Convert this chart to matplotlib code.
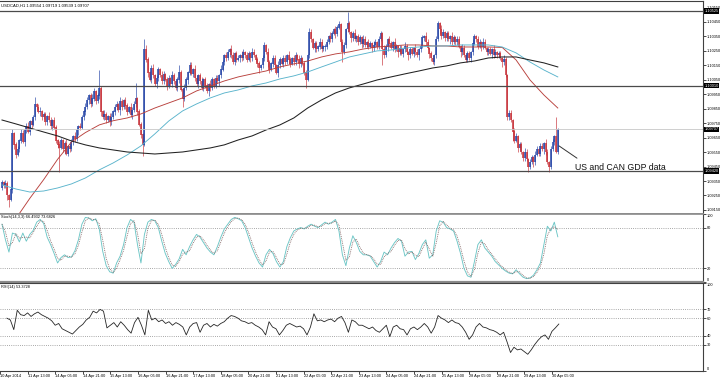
import numpy as np
import pandas as pd
import matplotlib
matplotlib.use("Agg")
import matplotlib.pyplot as plt
import matplotlib.transforms as mtransforms

plt.rcParams['font.family'] = ['Liberation Sans', 'DejaVu Sans']

# USDCAD H1, closes in pips above 1.0900, one value per hourly bar
close_pips = [
    34, 32, 33, 25, 22, 29, 68, 60, 53, 57,
    63, 68, 62, 70, 73, 69, 76, 74, 79, 88,
    86, 83, 83, 79, 81, 76, 80, 77, 73, 77,
    72, 63, 60, 58, 63, 57, 61, 54, 59, 57,
    62, 66, 64, 70, 73, 72, 79, 83, 86, 91,
    94, 88, 92, 97, 90, 94, 99, 83, 79, 81,
    77, 80, 76, 79, 83, 86, 88, 84, 90, 86,
    91, 87, 83, 86, 81, 84, 88, 92, 83, 74,
    67, 60, 126, 119, 110, 105, 113, 108, 102, 106,
    112, 108, 104, 109, 105, 101, 106, 102, 108, 104,
    99, 105, 110, 98, 92, 99, 105, 110, 115, 109,
    112, 106, 102, 108, 104, 99, 105, 101, 97, 102,
    99, 105, 101, 106, 104, 108, 112, 117, 122, 120,
    124, 126, 122, 117, 123, 119, 120, 122, 120, 124,
    122, 119, 123, 120, 124, 122, 119, 116, 113, 115,
    120, 129, 124, 117, 112, 116, 120, 115, 110, 115,
    119, 116, 120, 117, 122, 119, 116, 120, 117, 122,
    119, 116, 120, 116, 110, 105, 122, 138, 133, 127,
    130, 126, 128, 131, 126, 128, 128, 131, 135, 133,
    137, 140, 137, 141, 143, 131, 124, 129, 140, 144,
    138, 134, 137, 133, 135, 131, 134, 130, 133, 129,
    131, 128, 130, 127, 129, 131, 128, 133, 137, 126,
    122, 128, 133, 130, 127, 131, 126, 128, 124, 127,
    123, 126, 128, 124, 122, 126, 123, 127, 124, 122,
    126, 128, 134, 135, 131, 127, 123, 120, 117, 122,
    133, 144, 140, 135, 138, 134, 137, 133, 135, 131,
    134, 131, 133, 128, 124, 127, 122, 119, 123, 120,
    124, 130, 135, 133, 128, 131, 128, 131, 127, 124,
    126, 123, 126, 122, 124, 122, 123, 120, 117, 119,
    108, 79, 82, 77, 69, 63, 66, 58, 60, 55,
    51, 55, 50, 45, 48, 51, 48, 53, 57, 54,
    59, 57, 61, 55, 48, 45, 57, 62, 66, 55.4,
    70.7,
]
open_first = 30

# wick lengths above / below the body, pips
wick_up = [
    2, 1, 3, 2, 1, 2, 3, 1, 2, 2, 1, 3, 2, 1, 2, 3, 1, 2, 2, 5,
    1, 2, 3, 1, 2, 2, 1, 3, 2, 1, 2, 2, 1, 3, 2, 1, 2, 3, 1, 2,
    2, 1, 3, 2, 1, 2, 2, 1, 3, 2, 1, 2, 3, 2, 1, 2, 13, 2, 1, 3,
    2, 1, 2, 3, 1, 2, 2, 1, 3, 2, 1, 2, 2, 1, 3, 2, 2, 11, 1, 2,
    2, 1, 7, 3, 2, 1, 2, 3, 1, 2, 2, 1, 3, 2, 1, 2, 2, 1, 3, 2,
    1, 2, 5, 2, 1, 3, 2, 1, 2, 2, 1, 3, 2, 1, 2, 3, 1, 2, 2, 1,
    3, 2, 1, 2, 2, 1, 3, 2, 1, 2, 2, 1, 3, 2, 1, 2, 2, 1, 3, 2,
    1, 2, 2, 1, 3, 2, 1, 2, 2, 1, 2, 2, 1, 3, 2, 1, 2, 2, 1, 3,
    2, 1, 2, 2, 1, 3, 2, 1, 2, 2, 1, 3, 2, 1, 2, 2, 1, 3, 2, 1,
    2, 2, 1, 3, 2, 1, 2, 2, 1, 3, 2, 1, 2, 2, 3, 1, 2, 2, 1, 8,
    2, 1, 2, 3, 1, 2, 2, 1, 3, 2, 1, 2, 2, 1, 3, 2, 1, 2, 2, 1,
    3, 2, 1, 2, 2, 1, 3, 2, 1, 2, 2, 1, 3, 2, 1, 2, 2, 1, 3, 2,
    1, 2, 2, 1, 3, 2, 1, 2, 2, 1, 2, 2, 1, 3, 2, 1, 2, 2, 1, 3,
    2, 1, 2, 2, 1, 3, 2, 1, 2, 2, 1, 3, 2, 1, 2, 2, 1, 3, 2, 1,
    2, 2, 1, 3, 2, 1, 2, 2, 1, 3, 2, 1, 2, 2, 1, 3, 2, 1, 2, 2,
    1, 3, 2, 1, 2, 2, 1, 3, 2, 1, 2, 2, 1, 3, 2, 1, 2, 2, 1, 13,
    1.2,
]
wick_dn = [
    1, 2, 2, 3, 5, 1, 2, 3, 2, 1, 2, 2, 1, 3, 2, 1, 2, 2, 1, 2,
    2, 1, 3, 2, 1, 2, 2, 1, 2, 3, 1, 2, 2, 17, 1, 2, 3, 1, 2, 2,
    1, 2, 2, 1, 3, 2, 1, 2, 2, 1, 3, 2, 1, 2, 2, 1, 2, 3, 1, 2,
    2, 1, 3, 2, 1, 2, 2, 1, 3, 2, 1, 2, 2, 1, 2, 3, 1, 2, 2, 1,
    2, 8, 1, 2, 3, 1, 2, 2, 1, 3, 2, 1, 2, 2, 1, 3, 2, 1, 2, 2,
    1, 2, 2, 1, 6, 2, 1, 3, 2, 1, 2, 2, 1, 3, 2, 1, 2, 2, 1, 3,
    2, 1, 2, 2, 1, 3, 2, 1, 2, 2, 1, 3, 2, 1, 2, 2, 1, 3, 2, 1,
    2, 2, 1, 3, 2, 1, 2, 2, 3, 1, 2, 2, 1, 3, 2, 1, 2, 2, 1, 3,
    2, 1, 2, 2, 1, 3, 2, 1, 2, 2, 1, 3, 2, 1, 2, 6, 1, 2, 2, 1,
    3, 2, 1, 2, 2, 1, 3, 2, 1, 2, 2, 1, 3, 2, 1, 2, 7, 1, 2, 2,
    1, 3, 2, 1, 2, 2, 1, 3, 2, 1, 2, 2, 1, 3, 2, 1, 2, 2, 1, 11,
    2, 1, 3, 2, 1, 2, 2, 1, 3, 2, 1, 2, 2, 1, 3, 2, 1, 2, 2, 1,
    3, 2, 1, 2, 2, 1, 3, 2, 1, 2, 2, 1, 3, 2, 1, 2, 2, 1, 3, 2,
    1, 2, 2, 1, 3, 2, 1, 2, 2, 1, 3, 2, 1, 2, 2, 1, 3, 2, 1, 2,
    2, 1, 3, 2, 1, 2, 2, 1, 3, 2, 1, 2, 2, 1, 6, 2, 1, 3, 2, 1,
    2, 2, 1, 4, 2, 1, 3, 2, 1, 2, 2, 1, 3, 2, 1, 4, 2, 1, 2, 1,
    1.5,
]

# moving averages, sampled every 8 bars (pips above 1.0900)
ma_step = 8
ma_red = [-4, 9, 23, 36, 50, 62, 68.5, 73.8, 76.7, 78.6, 81.4, 85.5, 89, 92.5,
          97.3, 100.8, 104.2, 107, 109.1, 111.1, 113.9, 116, 118, 120.8, 122.9,
          124.3, 126.3, 127.7, 128.4, 129.1, 129.1, 128.4, 128.4, 127.7, 127.7,
          127.7, 127.4, 118.7, 104.9, 94.5, 85.5]
ma_teal = [32.3, 29.5, 27.4, 28.1, 30.2, 33, 37.1, 42.7, 47.5, 53, 59.3, 67.6,
           76.5, 83.5, 88.3, 92.5, 95.9, 98, 100.8, 102.8, 105.6, 107.7, 110.4,
           113.9, 117.3, 120.8, 122.9, 125, 125.6, 127, 127.7, 128.4, 128.4,
           129.1, 129.1, 129.1, 127.7, 123.6, 117.3, 111.8, 107]
ma_black = [77.2, 74.5, 71.7, 68.9, 66.2, 62.7, 60, 57.9, 56.5, 55.1, 54.4, 53.7,
            54.4, 55.1, 56.5, 57.9, 60, 63.4, 66.2, 70.3, 73.8, 78.6, 85.5, 91.1,
            95.9, 99.4, 102.1, 104.9, 107, 109.1, 111.1, 113.2, 114.6, 116.7, 118,
            120.1, 120.8, 120.8, 118.7, 116.7, 113.9]

hlines = [1.10525, 1.10010, 1.09420]
bid = 1.09707

# oscillators, sampled every 2 bars
osc_step = 2
stoch_k = [
    85, 62, 44, 72, 70, 59, 72, 60, 70, 76,
    88, 92, 86, 66, 55, 42, 28, 36, 40, 36,
    37, 46, 62, 85, 95, 94, 90, 93, 78, 45,
    24, 15, 13, 28, 38, 55, 80, 92, 88, 55,
    28, 70, 88, 92, 90, 80, 60, 42, 30, 20,
    26, 34, 48, 40, 52, 62, 70, 66, 58, 50,
    44, 40, 52, 66, 78, 85, 92, 95, 93, 90,
    80, 65, 50, 38, 28, 22, 40, 48, 42, 30,
    22, 30, 52, 65, 75, 78, 80, 78, 82, 85,
    82, 80, 84, 88, 85, 88, 92, 75, 40, 24,
    50, 68, 58, 45, 40, 40, 38, 30, 22, 30,
    44, 40, 50, 58, 64, 60, 38, 44, 45, 33,
    42, 55, 62, 35, 40, 75, 90, 88, 80, 78,
    75, 60, 42, 20, 9, 7, 30, 55, 62, 50,
    44, 38, 30, 25, 20, 16, 13, 12, 18, 12,
    7, 5, 6, 10, 18, 28, 55, 82, 75, 88,
    66.5,
]
rsi = [
    60, 58, 47, 69, 64, 63, 66, 62, 65, 67,
    64, 62, 60, 57, 52, 54, 48, 46, 44, 42,
    46, 50, 53, 58, 61, 68, 66, 70, 68, 49,
    52, 55, 50, 56, 52, 47, 43, 55, 61, 52,
    41, 69, 58, 60, 56, 58, 54, 56, 52, 55,
    53, 50, 41, 50, 54, 55, 44, 52, 54, 50,
    53, 51, 54, 56, 60, 63, 62, 60, 57, 56,
    54, 55, 52, 50, 47, 41, 56, 50, 48, 41,
    46, 52, 54, 52, 50, 51, 48, 41, 50, 65,
    57, 58, 56, 58, 59, 56, 60, 62, 55, 44,
    58, 56, 52, 52, 50, 48, 50, 46, 44, 48,
    52, 39, 50, 52, 48, 47, 41, 48, 50, 47,
    50, 54, 50, 43, 50, 63, 60, 58, 55, 58,
    55, 54, 50, 44, 36, 41, 50, 54, 50, 49,
    47, 46, 44, 41, 44, 33, 21, 27, 24, 25,
    22, 19, 24, 30, 35, 39, 41, 36, 45, 49,
    53.37,
]

time_ticks = list(range(-4, 321, 16))
time_labels = ["10 Apr 2014", "11 Apr 13:00", "14 Apr 05:00", "14 Apr 21:00",
               "15 Apr 13:00", "16 Apr 05:00", "16 Apr 21:00", "17 Apr 13:00",
               "18 Apr 05:00", "20 Apr 21:00", "21 Apr 13:00", "22 Apr 05:00",
               "22 Apr 21:00", "23 Apr 13:00", "24 Apr 05:00", "24 Apr 21:00",
               "25 Apr 13:00", "28 Apr 05:00", "28 Apr 21:00", "29 Apr 13:00",
               "30 Apr 05:00"]

BLUE = '#2343a6'
RED = '#c62e36'
FRAME = '#404040'
SEP = '#8a8a8a'
LVL = '#8c8c8c'
TXT = 2.8

W, H = 720.0, 378.0
fig = plt.figure(figsize=(7.2, 3.78), dpi=100, facecolor='white')


def panel(top, bottom):
    ax = fig.add_axes([0, 1 - bottom / H, 703 / W, (bottom - top) / H])
    ax.set_xlim(-1.15, 403.6)
    ax.spines['left'].set_visible(False)
    for s in ('top', 'bottom', 'right'):
        ax.spines[s].set_color(FRAME)
        ax.spines[s].set_linewidth(0.8)
    ax.yaxis.tick_right()
    ax.tick_params(axis='y', direction='out', length=2, width=0.5, pad=1,
                   labelsize=TXT, colors='black')
    ax.tick_params(axis='x', bottom=False, labelbottom=False)
    return ax


ax1 = panel(1, 214)
ax2 = panel(214, 282)
ax3 = panel(283, 371)
ax1.spines['bottom'].set_color(SEP)
ax1.spines['bottom'].set_linewidth(1.2)
ax2.spines['top'].set_color(SEP)
ax2.spines['top'].set_linewidth(1.2)
ax2.spines['bottom'].set_color(SEP)
ax2.spines['bottom'].set_linewidth(1.6)

# ---- price window
n = len(close_pips)
bars = np.arange(n)
c = 1.09 + np.array(close_pips) / 1e4
o = np.r_[1.09 + open_first / 1e4, c[:-1]]
top = np.maximum(o, c)
bot = np.minimum(o, c)
hi = top + np.array(wick_up) / 1e4
lo = bot - np.array(wick_dn) / 1e4
cols = np.where(c >= o, BLUE, RED)

ax1.vlines(bars, lo, hi, colors=cols, lw=0.45)
ax1.vlines(bars, bot, top + 0.00003, colors=cols, lw=1.1)

ma_x = np.arange(len(ma_red)) * ma_step
ax1.plot(ma_x, 1.09 + np.array(ma_red) / 1e4, color='#b8403c', lw=0.65)
ax1.plot(ma_x, 1.09 + np.array(ma_teal) / 1e4, color='#5ab4cc', lw=0.65)
ax1.plot(ma_x, 1.09 + np.array(ma_black) / 1e4, color='#222222', lw=0.75)

for v in hlines:
    ax1.axhline(v, color='#4a4a4a', lw=0.9)
ax1.axhline(bid, color='#c8c8c8', lw=0.6)

ax1.set_ylim(1.09122, 1.10595)
price_ticks = np.round(1.0915 + 0.001 * np.arange(15), 4)
ax1.set_yticks(price_ticks)
ax1.set_yticklabels([f"{v:.5f}" for v in price_ticks])

edge = mtransforms.blended_transform_factory(ax1.transAxes, ax1.transData)
for v in hlines + [bid]:
    ax1.text(1.002, v, f"{v:.5f}", transform=edge, ha='left', va='center',
             fontsize=TXT, color='white', clip_on=False,
             bbox=dict(boxstyle='square,pad=0.2', fc='black', ec='none'))

ax1.text(0.0015, 0.99, "USDCAD,H1 1.09554 1.09719 1.09539 1.09707",
         transform=ax1.transAxes, ha='left', va='top', fontsize=3.0)

ax1.annotate("US and CAN GDP data", xy=(320.7, 1.09593), xytext=(330, 1.09447),
             fontsize=6.3, color='#111111', ha='left', va='center',
             arrowprops=dict(arrowstyle='-', color='#333333', lw=0.7,
                             relpos=(0.09, 1.0), shrinkA=2, shrinkB=0))

# ---- stochastic window
osc_x = np.arange(len(stoch_k)) * osc_step
stoch_d = pd.Series(stoch_k).rolling(2, min_periods=1).mean()
for lv in (80, 20):
    ax2.axhline(lv, color=LVL, lw=0.6, ls=(0, (1, 1.6)))
ax2.plot(osc_x, stoch_k, color='#6cc6c6', lw=0.65)
ax2.plot(osc_x, stoch_d, color='#7a5a5a', lw=0.6, ls=(0, (1, 1.2)))
ax2.set_ylim(0, 100)
ax2.set_yticks([0, 20, 80, 100])
ax2.text(0.002, 0.98, "Stoch(14,3,3) 66.4932 73.6826", transform=ax2.transAxes,
         ha='left', va='top', fontsize=TXT)

# ---- RSI window
for lv in (70, 60, 40, 30):
    ax3.axhline(lv, color=LVL, lw=0.6, ls=(0, (1, 1.6)))
ax3.plot(osc_x, rsi, color='#262626', lw=0.6)
ax3.set_ylim(0, 100)
ax3.set_yticks([0, 30, 40, 60, 70, 100])
ax3.text(0.002, 0.98, "RSI(14) 53.3728", transform=ax3.transAxes,
         ha='left', va='top', fontsize=TXT)

for ax in (ax2, ax3):
    ticks = ax.yaxis.get_major_ticks()
    ticks[0].label2.set_va('bottom')
    ticks[-1].label2.set_va('top')

ax3.tick_params(axis='x', bottom=True, labelbottom=True, direction='out',
                length=2, width=0.5, pad=0.5, labelsize=TXT)
ax3.set_xticks(time_ticks)
ax3.set_xticklabels(time_labels)
for lab in ax3.get_xticklabels():
    lab.set_ha('left')

fig.savefig("out.png", dpi=100, facecolor='white')
